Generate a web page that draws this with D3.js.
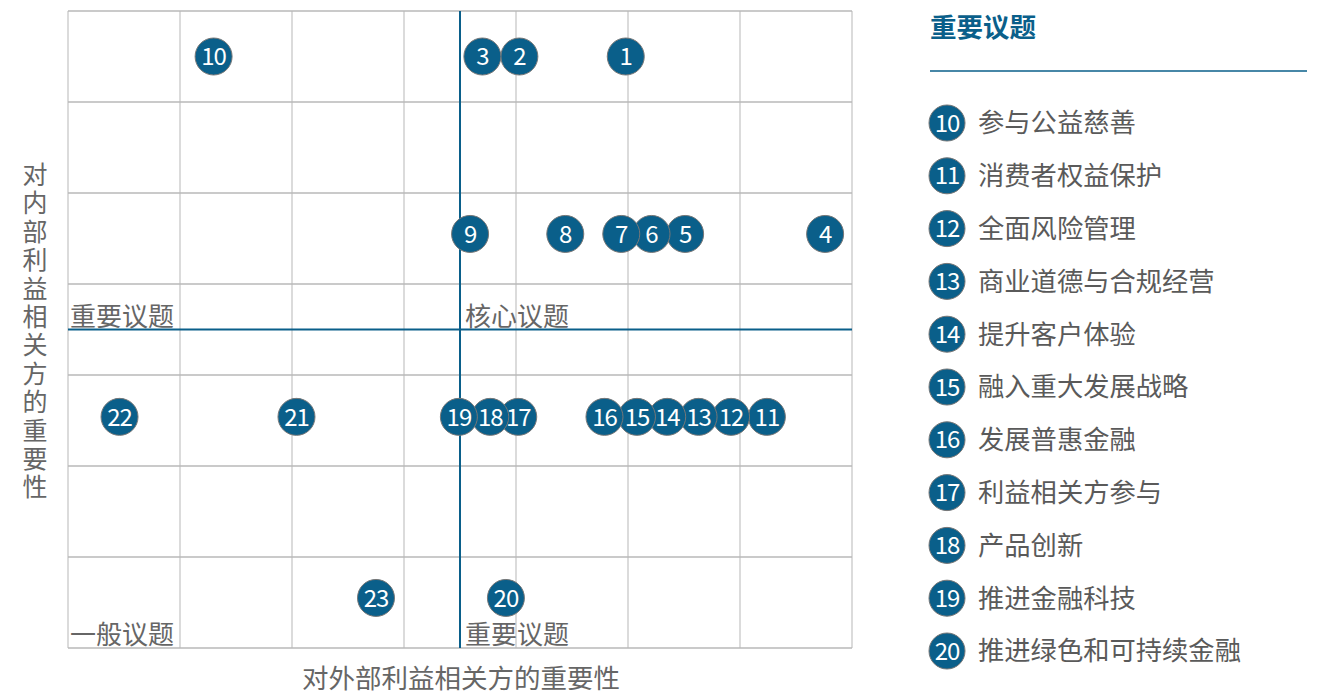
<!DOCTYPE html>
<html><head><meta charset="utf-8">
<script src="https://cdn.jsdelivr.net/npm/d3@7"></script>
<style>
html,body{margin:0;padding:0;background:#fff;}
svg text{font-family:"Noto Sans CJK SC","Noto Sans",sans-serif;}
</style></head>
<body><svg id="chart" width="1342" height="695"></svg>
<script>
// Data
const issueIds   = [1,2,3,4,5,6,7,8,9,10,11,12,13,14,15,16,17,18,19,20,21,22,23];
const externalImp = [4.98,4.03,3.70,6.76,5.51,5.21,4.94,4.44,3.59,1.30,6.24,5.92,5.63,5.35,5.08,4.79,4.02,3.77,3.49,3.91,2.04,0.46,2.75];
const internalImp = [6.5,6.5,6.5,4.55,4.55,4.55,4.55,4.55,4.55,6.5,2.54,2.54,2.54,2.54,2.54,2.54,2.54,2.54,2.54,0.55,2.54,2.54,0.55];
const legendIds = [10,11,12,13,14,15,16,17,18,19,20];
const legendNames = ["参与公益慈善","消费者权益保护","全面风险管理","商业道德与合规经营","提升客户体验","融入重大发展战略","发展普惠金融","利益相关方参与","产品创新","推进金融科技","推进绿色和可持续金融"];
const gridTicks = [0,1,2,3,4,5,6,7];
const threshold = 3.5;
const quadrantLabels = ["重要议题","核心议题","一般议题","重要议题"];
const xTitle = "对外部利益相关方的重要性";
const yTitle = "对内部利益相关方的重要性";
const legendTitle = "重要议题";

const BLUE = "#0a5f8a";
const svg = d3.select("#chart");
const x = d3.scaleLinear().domain([0,7]).range([68,852]);
const y = d3.scaleLinear().domain([0,7]).range([648,11]);

// grid
const g = svg.append("g");
g.selectAll("line.v").data(gridTicks).join("line")
  .attr("x1",d=>x(d)).attr("x2",d=>x(d)).attr("y1",y(0)).attr("y2",y(7))
  .attr("stroke","#c8c8c8").attr("stroke-width",1.3);
g.selectAll("line.h").data(gridTicks).join("line")
  .attr("y1",d=>y(d)).attr("y2",d=>y(d)).attr("x1",x(0)).attr("x2",x(7))
  .attr("stroke","#b8b8b8").attr("stroke-width",1.3);

// threshold lines
g.append("line").attr("x1",x(threshold)).attr("x2",x(threshold)).attr("y1",y(0)).attr("y2",y(7))
  .attr("stroke",BLUE).attr("stroke-width",2);
g.append("line").attr("x1",x(0)).attr("x2",x(7)).attr("y1",y(threshold)).attr("y2",y(threshold))
  .attr("stroke",BLUE).attr("stroke-width",2);

// quadrant labels
const qpos = [[0,threshold],[threshold,threshold],[0,0],[threshold,0]];
g.selectAll("text.q").data(quadrantLabels).join("text")
  .attr("x",(d,i)=>x(qpos[i][0])+(qpos[i][0]>0?5:2)).attr("y",(d,i)=>y(qpos[i][1])-4)
  .attr("font-size",26).attr("fill","#666").text(d=>d);

// points
const pts = issueIds.map((id,i)=>({id,x:externalImp[i],y:internalImp[i]}));
const pg = svg.append("g").selectAll("g").data(pts).join("g")
  .attr("transform",d=>`translate(${x(d.x)},${y(d.y)})`);
pg.append("circle").attr("r",18.5).attr("fill",BLUE).attr("stroke","#777").attr("stroke-width",1);
pg.append("text").attr("text-anchor","middle").attr("dy","0.36em")
  .attr("font-size",24).attr("fill","#fff").attr("letter-spacing",-1).text(d=>d.id);

// axis titles
svg.append("text").attr("x",461).attr("y",688).attr("text-anchor","middle")
  .attr("font-size",26.5).attr("fill","#666").text(xTitle);
svg.append("text").attr("x",35).attr("y",162)
  .attr("font-size",25).attr("fill","#666")
  .style("writing-mode","vertical-rl").style("text-orientation","upright")
  .attr("letter-spacing",3.4).text(yTitle);

// legend
svg.append("text").attr("x",930).attr("y",37).attr("font-size",26.5).attr("font-weight",700)
  .attr("fill",BLUE).text(legendTitle);
svg.append("line").attr("x1",930).attr("x2",1307).attr("y1",71).attr("y2",71)
  .attr("stroke",BLUE).attr("stroke-width",1.5);
const ly = d3.scalePoint().domain(legendIds).range([123,651]);
const lg = svg.append("g").selectAll("g").data(legendIds).join("g")
  .attr("transform",d=>`translate(947,${ly(d)})`);
lg.append("circle").attr("r",18).attr("fill",BLUE).attr("stroke","#777").attr("stroke-width",1);
lg.append("text").attr("text-anchor","middle").attr("dy","0.36em").attr("font-size",24)
  .attr("fill","#fff").attr("letter-spacing",-1).text(d=>d);
lg.append("text").attr("x",31).attr("dy","0.36em").attr("font-size",26.3).attr("fill","#5a5a5a")
  .text((d,i)=>legendNames[i]);
</script></body></html>
